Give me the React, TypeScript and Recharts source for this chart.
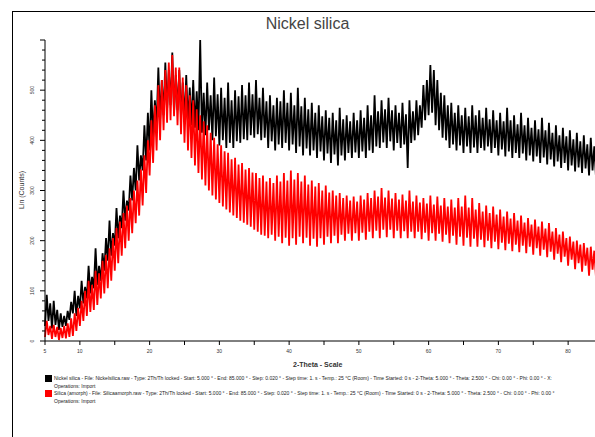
import React from "react";
import { LineChart, Line, XAxis, YAxis } from "recharts";

// 2-Theta start (degrees); readings are taken every 0.5°
const thetaStart = 5;
const thetaStep = 0.5;

// Nickel silica (black): lower / upper edge of the noisy trace, counts (5°, 5.5°, ... 84.5°)
const nickelLow = [
  30, 40, 25, 32, 22, 28, 30, 42, 55, 50, 65, 75, 85, 95, 105, 112, 120, 140, 160, 170,
  190, 205, 225, 240, 260, 280, 300, 320, 340, 360, 380, 405, 430, 440, 450, 460, 470, 455, 460, 445,
  440, 435, 430, 425, 420, 415, 410, 420, 400, 408, 390, 400, 385, 395, 385, 398, 395, 402, 400, 410,
  405, 412, 400, 405, 385, 398, 380, 392, 385, 395, 380, 392, 375, 388, 370, 384, 370, 380, 365, 378,
  360, 374, 355, 372, 350, 370, 360, 375, 365, 376, 365, 378, 365, 380, 375, 388, 385, 396, 385, 398,
  380, 395, 385, 392, 345, 395, 400, 410, 425, 440, 450, 455, 430, 420, 405, 400, 385, 392, 380, 390,
  375, 388, 375, 386, 375, 385, 380, 388, 375, 385, 370, 382, 368, 378, 365, 375, 365, 374, 360, 370,
  358, 368, 355, 366, 352, 362, 348, 358, 345, 355, 340, 350, 338, 346, 335, 344, 330, 340, 325, 335,
];
const nickelHigh = [
  92, 75, 80, 62, 55, 50, 60, 78, 100, 90, 120, 108, 150, 128, 185, 150, 175, 205, 240, 215,
  265, 250, 300, 280, 330, 345, 390, 370, 430, 455, 500, 480, 545, 520, 555, 540, 575, 530, 540, 515,
  530, 505, 520, 498, 600, 495, 515, 490, 525, 492, 505, 485, 515, 480, 500, 488, 510, 490, 515, 492,
  520, 485, 505, 478, 490, 470, 485, 478, 500, 475, 495, 470, 505, 468, 485, 462, 475, 455, 470, 448,
  460, 445, 455, 440, 465, 442, 450, 438, 455, 440, 460, 445, 470, 450, 490, 458, 480, 462, 485, 460,
  470, 455, 475, 452, 480, 458, 480, 470, 510, 520, 550, 540, 520, 495, 490, 470, 475, 455, 470, 450,
  465, 448, 470, 450, 460, 445, 465, 442, 460, 440, 455, 438, 465, 440, 450, 432, 455, 430, 445, 425,
  440, 422, 445, 420, 435, 415, 430, 410, 425, 408, 420, 402, 415, 398, 410, 392, 405, 388, 400, 380,
];

// Silica (red): lower / upper edge of the noisy trace, counts (5°, 5.5°, ... 84.5°)
const silicaLow = [
  8, 12, 4, 8, 2, 6, 5, 8, 10, 20, 30, 40, 50, 58, 62, 72, 85, 95, 105, 120,
  140, 155, 170, 185, 200, 215, 235, 250, 270, 295, 330, 355, 380, 400, 420, 435, 440, 448, 430, 412,
  395, 380, 365, 350, 335, 322, 310, 300, 290, 282, 275, 268, 262, 256, 250, 245, 240, 236, 232, 228,
  222, 218, 212, 210, 205, 212, 200, 208, 195, 206, 190, 205, 192, 208, 195, 206, 190, 204, 188, 205,
  192, 208, 195, 210, 195, 212, 200, 214, 200, 215, 200, 216, 202, 218, 205, 220, 205, 222, 207, 222,
  205, 220, 205, 219, 205, 218, 205, 218, 203, 216, 200, 215, 200, 214, 198, 212, 195, 210, 192, 208,
  190, 206, 188, 204, 188, 202, 187, 200, 185, 198, 183, 196, 181, 194, 179, 192, 177, 190, 175, 188,
  172, 185, 170, 182, 167, 178, 162, 174, 157, 168, 150, 162, 143, 155, 138, 150, 130, 142, 125, 136,
];
const silicaHigh = [
  40, 30, 32, 28, 26, 30, 35, 45, 55, 66, 80, 100, 120, 112, 140, 135, 160, 172, 185, 205,
  225, 238, 255, 270, 285, 300, 320, 342, 370, 400, 440, 470, 510, 520, 540, 555, 570, 545, 545, 525,
  510, 490, 480, 462, 450, 438, 430, 415, 405, 392, 390, 378, 375, 362, 365, 352, 355, 342, 345, 336,
  335, 325, 330, 318, 325, 315, 330, 318, 335, 320, 340, 322, 335, 318, 330, 312, 320, 308, 315, 300,
  310, 296, 300, 290, 295, 285, 290, 280, 288, 278, 290, 282, 295, 285, 300, 288, 305, 286, 300, 284,
  295, 282, 292, 280, 300, 278, 290, 276, 285, 274, 290, 272, 288, 270, 285, 268, 282, 266, 285, 268,
  290, 266, 285, 262, 275, 258, 270, 255, 268, 252, 262, 248, 258, 244, 255, 240, 250, 236, 245, 232,
  242, 228, 238, 224, 235, 218, 225, 212, 218, 205, 208, 198, 200, 192, 195, 186, 188, 180, 182, 170,
];

const xTicks = [5, 10, 15, 20, 25, 30, 35, 40, 45, 50, 55, 60, 65, 70, 75, 80, 85];
const xLabels = [5, 10, 20, 30, 40, 50, 60, 70, 80];
const yTicks = Array.from({ length: 31 }, (_, i) => i * 20);
const yLabels = [0, 100, 200, 300, 400, 500];

const legendEntries = [
  {
    color: "#000000",
    text:
      "Nickel silica - File: Nickelsilica.raw - Type: 2Th/Th locked - Start: 5.000 ° - End: 85.000 ° - Step: 0.020 ° - Step time: 1. s - Temp.: 25 °C (Room) - Time Started: 0 s - 2-Theta: 5.000 ° - Theta: 2.500 ° - Chi: 0.00 ° - Phi: 0.00 ° - X:",
  },
  {
    color: "#ff0000",
    text:
      "Silica (amorph) - File: Silicaamorph.raw - Type: 2Th/Th locked - Start: 5.000 ° - End: 85.000 ° - Step: 0.020 ° - Step time: 1. s - Temp.: 25 °C (Room) - Time Started: 0 s - 2-Theta: 5.000 ° - Theta: 2.500 ° - Chi: 0.00 ° - Phi: 0.00 °",
  },
];

// Interleave low/high readings into a dense trace
const data: { t: number; nickel: number; silica: number }[] = [];
nickelLow.forEach((_, i) => {
  const t = thetaStart + i * thetaStep;
  data.push({ t, nickel: nickelLow[i], silica: silicaLow[i] });
  data.push({ t: t + thetaStep / 2, nickel: nickelHigh[i], silica: silicaHigh[i] });
});

const YTick = (props: any) => {
  const { x, y, payload } = props;
  const v = payload.value;
  const major = v % 100 === 0;
  return (
    <g>
      <line x1={x} x2={x - (major ? 5 : 3)} y1={y} y2={y} stroke="#000" strokeWidth={1} />
      {yLabels.includes(v) && (
        <text
          x={x - 13}
          y={y}
          transform={`rotate(-90 ${x - 13} ${y})`}
          textAnchor="middle"
          dominantBaseline="central"
          fontSize={5}
          fontFamily="Arial, Liberation Sans, sans-serif"
          fill="#333"
        >
          {v}
        </text>
      )}
    </g>
  );
};

const XTick = (props: any) => {
  const { x, y, payload } = props;
  const v = payload.value;
  return (
    <g>
      <line x1={x} x2={x} y1={y} y2={y + 4} stroke="#000" strokeWidth={1} />
      {xLabels.includes(v) && (
        <text
          x={x}
          y={y + 12}
          textAnchor="middle"
          fontSize={5}
          fontFamily="Arial, Liberation Sans, sans-serif"
          fill="#333"
        >
          {v}
        </text>
      )}
    </g>
  );
};

export default function App() {
  return (
    <div
      style={{
        position: "absolute",
        left: 0,
        top: 0,
        width: 595,
        height: 437,
        overflow: "hidden",
        background: "#fff",
        fontFamily: "Arial, Liberation Sans, sans-serif",
      }}
    >
      <div
        style={{
          position: "absolute",
          left: 12,
          top: 11,
          width: 600,
          height: 440,
          borderLeft: "1px solid #000",
          borderTop: "1px solid #000",
        }}
      />
      <div
        style={{
          position: "absolute",
          left: 0,
          top: 15,
          width: 615,
          textAlign: "center",
          fontSize: 16,
          color: "#444",
        }}
      >
        Nickel silica
      </div>
      <div style={{ position: "absolute", left: 0, top: 0 }}>
        <LineChart
          width={605}
          height={437}
          data={data}
          margin={{ top: 40, right: 2, left: 15, bottom: 76 }}
        >
          <XAxis
            dataKey="t"
            type="number"
            domain={[5, 85]}
            ticks={xTicks}
            interval={0}
            tickLine={false}
            tickSize={0}
            tickMargin={0}
            tick={<XTick />}
            axisLine={{ stroke: "#000", strokeWidth: 1 }}
            height={20}
          />
          <YAxis
            type="number"
            domain={[0, 600]}
            ticks={yTicks}
            interval={0}
            tickLine={false}
            tickSize={0}
            tickMargin={0}
            tick={<YTick />}
            axisLine={{ stroke: "#000", strokeWidth: 1 }}
            width={30}
          />
          <Line
            dataKey="nickel"
            stroke="#000000"
            strokeWidth={1.8}
            dot={false}
            isAnimationActive={false}
          />
          <Line
            dataKey="silica"
            stroke="#ff0000"
            strokeWidth={1.8}
            dot={false}
            isAnimationActive={false}
          />
        </LineChart>
      </div>
      <div
        style={{
          position: "absolute",
          left: 21,
          top: 190,
          transform: "translate(-50%, -50%) rotate(-90deg)",
          fontSize: 7,
          color: "#333",
          whiteSpace: "nowrap",
        }}
      >
        Lin (Counts)
      </div>
      <div
        style={{
          position: "absolute",
          left: 293,
          top: 361,
          fontSize: 7,
          fontWeight: "bold",
          color: "#333",
          whiteSpace: "nowrap",
        }}
      >
        2-Theta - Scale
      </div>
      {legendEntries.map((e, i) => (
        <div key={i} style={{ position: "absolute", left: 45, top: 374 + i * 15, width: 560 }}>
          <div
            style={{
              position: "absolute",
              left: 0,
              top: 1,
              width: 5,
              height: 5,
              background: e.color,
              border: "1px solid " + e.color,
            }}
          />
          <div
            style={{
              position: "absolute",
              left: 9,
              top: 0,
              fontSize: 5,
              lineHeight: "8px",
              color: "#222",
              whiteSpace: "nowrap",
            }}
          >
            {e.text}
            <br />
            Operations: Import
          </div>
        </div>
      ))}
    </div>
  );
}
